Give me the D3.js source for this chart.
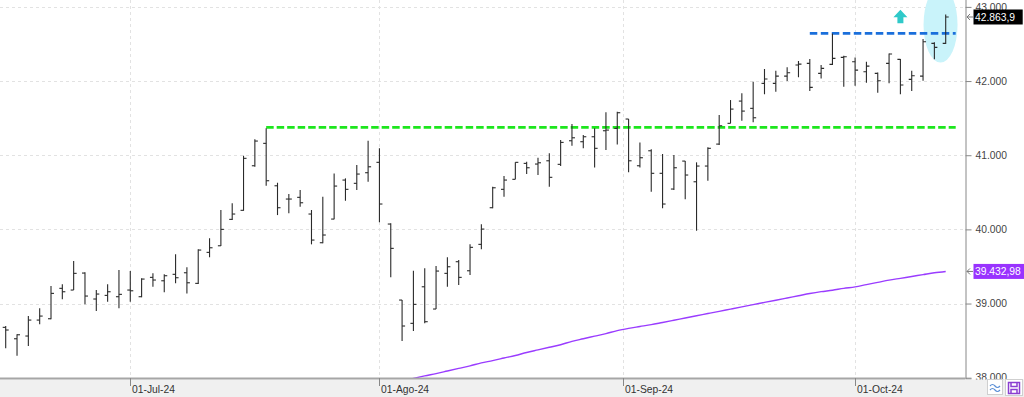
<!DOCTYPE html>
<html>
<head>
<meta charset="utf-8">
<script src="https://cdnjs.cloudflare.com/ajax/libs/d3/7.8.5/d3.min.js"></script>
<style>
body { margin: 0; background: #fff; }
svg { display: block; font-family: "Liberation Sans", Arial, sans-serif; }
</style>
</head>
<body>
<svg width="1024" height="397"></svg>
<script>
// daily OHLC bars (trading days only)
let dates = ["2024-06-13","2024-06-14","2024-06-17","2024-06-18","2024-06-20","2024-06-21","2024-06-24","2024-06-25","2024-06-26","2024-06-27","2024-06-28",
    "2024-07-01","2024-07-02","2024-07-03","2024-07-05","2024-07-08","2024-07-09","2024-07-10","2024-07-11","2024-07-12","2024-07-15","2024-07-16","2024-07-17","2024-07-18","2024-07-19","2024-07-22","2024-07-23","2024-07-24","2024-07-25","2024-07-26","2024-07-29","2024-07-30","2024-07-31",
    "2024-08-01","2024-08-02","2024-08-05","2024-08-06","2024-08-07","2024-08-08","2024-08-09","2024-08-12","2024-08-13","2024-08-14","2024-08-15","2024-08-16","2024-08-19","2024-08-20","2024-08-21","2024-08-22","2024-08-23","2024-08-26","2024-08-27","2024-08-28","2024-08-29","2024-08-30",
    "2024-09-03","2024-09-04","2024-09-05","2024-09-06","2024-09-09","2024-09-10","2024-09-11","2024-09-12","2024-09-13","2024-09-16","2024-09-17","2024-09-18","2024-09-19","2024-09-20","2024-09-23","2024-09-24","2024-09-25","2024-09-26","2024-09-27","2024-09-30",
    "2024-10-01","2024-10-02","2024-10-03","2024-10-04","2024-10-07","2024-10-08","2024-10-09","2024-10-10","2024-10-11"];

let open = [38679,38525,38562,38777,38795,39205,39182,39411,39061,39110,39092,
    39182,39092,39353,39307,39394,39415,39272,39690,39779,40135,40257,40858,41160,40588,40409,40432,40207,39820,40139,40665,40621,40764,
    40904,40072,39047,38733,39226,38926,39407,39564,39442,39798,40292,40540,40675,40890,40881,40925,40877,41195,41182,41249,41330,41362,
    41488,40858,41060,40756,40544,40921,40642,40854,41150,41430,41730,41632,41969,41969,42067,42216,42239,42104,42225,42319,
    42260,42125,42104,42239,42293,42023,42067,42508,42508];

let high = [38697,38585,38831,38935,39236,39259,39573,39421,39182,39259,39452,
    39438,39340,39407,39394,39663,39488,39731,39879,40261,40351,40993,41214,41362,40629,40476,40530,40261,40440,40755,40688,40867,41195,
    41093,40081,39047,39442,39475,39506,39623,39586,39798,40068,40575,40719,40904,40912,40966,41025,41204,41420,41272,41362,41578,41586,
    41488,41173,41079,41016,41002,40921,40904,41106,41542,41744,41834,41990,42162,42139,42185,42270,42297,42216,42643,42341,
    42319,42260,42117,42373,42297,42139,42566,42522,42899];

let low = [38396,38296,38427,38720,38787,39057,39182,38989,38899,39024,38935,
    39024,39084,39226,39151,39272,39137,39263,39623,39775,40126,40251,40844,40588,40193,40216,40305,39798,39812,40135,40386,40530,40642,
    40095,39353,38494,38629,38733,38926,39226,39249,39384,39731,40284,40440,40675,40746,40733,40575,40854,41128,41093,40836,41070,41146,
    40769,40836,40507,40284,40530,40405,39982,40656,41137,41430,41465,41443,41821,41856,42000,42050,41865,42036,42216,41923,
    41937,41977,41842,41969,41821,41865,42004,42293,42499];

let close = [38643,38579,38777,38831,39137,39159,39407,39101,39128,39159,39124,
    39172,39330,39317,39375,39348,39280,39721,39752,40000,40207,40958,41191,40656,40292,40409,40359,39856,39924,40584,40540,40746,40844,
    40342,39744,38697,38989,38755,39438,39496,39353,39758,40004,40561,40665,40904,40831,40898,40702,41173,41235,41249,41093,41339,41573,
    40925,40966,40756,40342,40831,40733,40854,41093,41397,41622,41595,41505,42027,42067,42112,42229,41915,42171,42306,42328,
    42148,42202,42004,42364,41946,42071,42530,42454,42863.9];

// long moving average (only the part above 38.000 is visible)
let maValues = [null,null,null,null,null,null,null,null,null,null,null,
    null,null,null,null,null,null,null,null,null,null,null,null,null,null,null,null,null,null,null,null,null,null,
    null,null,37960,37990,38025,38055,38090,38125,38160,38200,38230,38265,38300,38340,38375,38410,38445,38490,38525,38560,38595,38635,
    38665,38690,38715,38745,38775,38805,38835,38865,38895,38925,38955,38985,39015,39045,39075,39105,39135,39160,39180,39205,
    39225,39255,39285,39315,39340,39365,39390,39415,39432.98];

// horizontal levels drawn on the chart
let levelValues = [41376, 42643];
let levelStart = ["2024-07-18", "2024-09-25"];
let levelColors = ["#1de61d", "#1a6fdb"];

let yTicks = [38000, 39000, 40000, 41000, 42000, 43000];
let monthTicks = ["2024-07-01", "2024-08-01", "2024-09-01", "2024-10-01"];
let monthLabels = ["01-Jul-24", "01-Ago-24", "01-Sep-24", "01-Oct-24"];

let locale = d3.formatLocale({ decimal: ",", thousands: ".", grouping: [3], currency: ["", ""] });
let fmt0 = locale.format(",.0f");

let svg = d3.select("svg");
let plotW = 965.5, plotH = 378;

let x = d3.scaleLinear().domain([0, dates.length - 1]).range([5.7, 945.7]);
let y = d3.scaleLinear().domain([38000, 43000]).range([377.7, 6.9]);

svg.append("defs").append("clipPath").attr("id", "plotclip")
    .append("rect").attr("x", 0).attr("y", 0).attr("width", plotW).attr("height", plotH);

// position of a calendar date on the index scale
function datePos(d) {
    let i = dates.indexOf(d);
    if (i >= 0) return i;
    let next = dates.findIndex(e => e > d);
    return next - 0.5;
}

// grid
let grid = svg.append("g");
grid.selectAll(".hgrid").data(yTicks).enter().append("line")
    .attr("x1", 0).attr("x2", plotW)
    .attr("y1", d => Math.round(y(d)) + 0.5).attr("y2", d => Math.round(y(d)) + 0.5)
    .attr("stroke", "#e2e2e2").attr("stroke-dasharray", "3,3");
grid.selectAll(".vgrid").data(monthTicks).enter().append("line")
    .attr("x1", d => Math.round(x(datePos(d))) + 0.5).attr("x2", d => Math.round(x(datePos(d))) + 0.5)
    .attr("y1", 0).attr("y2", plotH)
    .attr("stroke", "#e2e2e2").attr("stroke-dasharray", "3,3");

let plot = svg.append("g").attr("clip-path", "url(#plotclip)");

// highlight ellipse around the last bars
let last = dates.length - 1;
plot.append("ellipse")
    .attr("cx", (x(last - 1) + x(last)) / 2 + 0.5)
    .attr("cy", y(42760))
    .attr("rx", 17)
    .attr("ry", y(42250) - y(42760))
    .attr("fill", "#c9f3fa");

// up arrow
let ax = x(dates.indexOf("2024-10-07"));
let aTop = y(42960), aMid = y(42860), aBot = y(42780);
plot.append("path")
    .attr("d", "M" + ax + "," + aTop + " L" + (ax + 7) + "," + aMid + " L" + (ax + 3) + "," + aMid +
        " L" + (ax + 3) + "," + aBot + " L" + (ax - 3) + "," + aBot + " L" + (ax - 3) + "," + aMid +
        " L" + (ax - 7) + "," + aMid + " Z")
    .attr("fill", "#2fc9c9");

// moving average line
let ma = dates.map((d, i) => ({ i: i, v: maValues[i] }));
plot.append("path")
    .datum(ma)
    .attr("fill", "none")
    .attr("stroke", "#9a3cff")
    .attr("stroke-width", 1.4)
    .attr("d", d3.line().defined(d => d.v != null).x(d => x(d.i)).y(d => y(d.v)).curve(d3.curveMonotoneX));

// levels
plot.selectAll(".level").data(levelValues).enter().append("line")
    .attr("x1", (d, i) => x(dates.indexOf(levelStart[i])))
    .attr("x2", x(last) + 10)
    .attr("y1", d => y(d)).attr("y2", d => y(d))
    .attr("stroke", (d, i) => levelColors[i])
    .attr("stroke-width", (d, i) => i == 0 ? 2.7 : 2.8)
    .attr("stroke-dasharray", (d, i) => i == 0 ? "7.5,3" : "7.5,3.5");

// OHLC bars
let bars = dates.map((d, i) => ({ i: i, o: open[i], h: high[i], l: low[i], c: close[i] }));
let bar = plot.selectAll(".bar").data(bars).enter().append("g").attr("class", "bar")
    .attr("stroke", "#2a2a2a").attr("stroke-width", 1.1);
bar.append("line")
    .attr("x1", d => x(d.i)).attr("x2", d => x(d.i))
    .attr("y1", d => y(d.h)).attr("y2", d => y(d.l));
bar.append("line")
    .attr("x1", d => x(d.i) - 3).attr("x2", d => x(d.i))
    .attr("y1", d => y(d.o)).attr("y2", d => y(d.o));
bar.append("line")
    .attr("x1", d => x(d.i)).attr("x2", d => x(d.i) + 3)
    .attr("y1", d => y(d.c)).attr("y2", d => y(d.c));

// right axis
let yAxis = d3.axisRight(y).tickValues(yTicks).tickSize(6).tickPadding(4).tickFormat(fmt0);
let minor = d3.axisRight(y).tickValues(d3.range(38000, 43001, 1000 / 6)).tickSize(3.5).tickFormat("");
let ya = svg.append("g").attr("transform", "translate(" + plotW + ",0)");
ya.call(minor);
ya.call(yAxis);
ya.selectAll("path.domain").attr("stroke", "#888").attr("d", "M0.5,0V" + (plotH + 1) + "H6");
ya.selectAll("line").attr("stroke", "#888");
ya.selectAll("text").attr("font-size", "10.3px").attr("fill", "#444").attr("font-family", "Liberation Sans, Arial, sans-serif");

// bottom strip with dates (covers the lower half of the 38.000 label)
svg.append("rect").attr("x", 0).attr("y", plotH + 1.5).attr("width", 1024).attr("height", 397 - plotH).attr("fill", "#f0f0f0");
svg.append("line").attr("x1", 0).attr("x2", plotW).attr("y1", plotH + 0.5).attr("y2", plotH + 0.5)
    .attr("stroke", "#a6a6a6").attr("stroke-width", 2);

let xa = svg.append("g");
monthTicks.forEach(function (m, k) {
    let px = Math.round(x(datePos(m))) + 0.5;
    xa.append("line").attr("x1", px).attr("x2", px).attr("y1", plotH).attr("y2", plotH + 8)
        .attr("stroke", "#888");
    xa.append("text").attr("x", px + 1.5).attr("y", 393)
        .attr("font-size", "10.3px").attr("fill", "#333")
        .text(monthLabels[k]);
});

// value labels on the axis
function axisLabel(v, txt, bg) {
    let py = y(v);
    svg.append("path")
        .attr("d", "M973," + py + " H967 M970," + (py - 3) + " L967," + py + " L970," + (py + 3))
        .attr("stroke", "#777").attr("fill", "none");
    svg.append("rect").attr("x", 973.5).attr("y", py - 7.5).attr("width", txt.length * 5.9 + 2).attr("height", 15)
        .attr("fill", bg);
    svg.append("text").attr("x", 975).attr("y", py + 4)
        .attr("font-size", "10.3px").attr("fill", "#fff").text(txt);
}
axisLabel(close[last], "42.863,9", "#000");
axisLabel(maValues[last], "39.432,98", "#9933ff");

// small buttons bottom right
svg.append("rect").attr("x", 987.5).attr("y", 379.5).attr("width", 15).attr("height", 15)
    .attr("fill", "#fff").attr("stroke", "#cfcfcf");
svg.append("path").attr("d", "M990,386 q2.5,-3 5,0 t5,0 M990,390 q2.5,-3 5,0 t5,0")
    .attr("stroke", "#5b8fd6").attr("fill", "none").attr("stroke-width", 1.2);
svg.append("rect").attr("x", 1005.5).attr("y", 379.5).attr("width", 17).attr("height", 16)
    .attr("fill", "#fff").attr("stroke", "#cfcfcf");
svg.append("path").attr("d", "M1008.5,382.5 h11 v11 h-11 Z M1011,382.5 v4 h6 v-4 M1011,393.5 v-4 h6 v4")
    .attr("stroke", "#8a3fd1").attr("fill", "none").attr("stroke-width", 1.5);
</script>
</body>
</html>
